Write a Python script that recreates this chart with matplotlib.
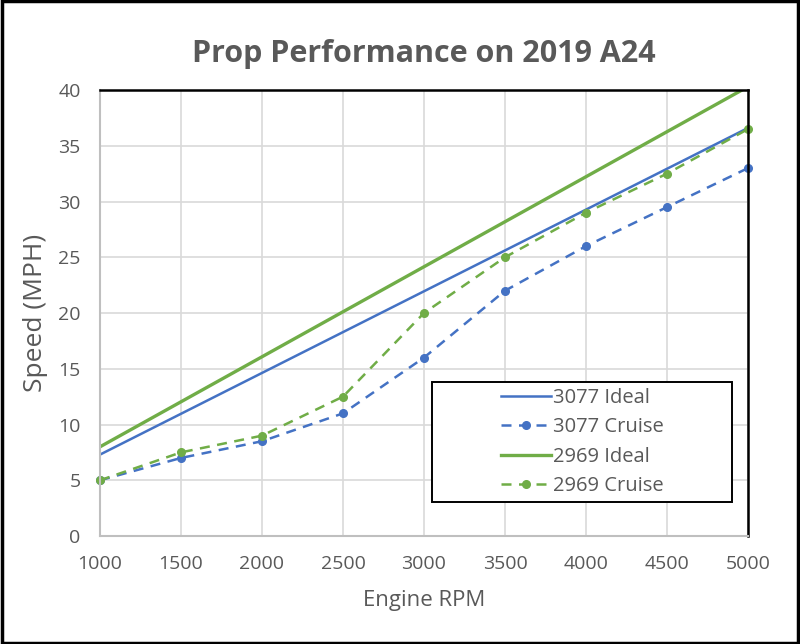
import matplotlib
matplotlib.use("Agg")
import matplotlib.pyplot as plt

rpm = [1000, 1500, 2000, 2500, 3000, 3500, 4000, 4500, 5000]
ideal_rpm = [1000, 5000]
ideal_3077 = [7.3, 36.6]
ideal_2969 = [8.0, 40.3]
cruise_3077 = [5, 7, 8.5, 11, 16, 22, 26, 29.5, 33]
cruise_2969 = [5, 7.5, 9, 12.5, 20, 25, 29, 32.5, 36.5]

BLUE = '#4472C4'
GREEN = '#70AD47'
GRAY = '#595959'

plt.rcParams['font.family'] = ['Open Sans', 'DejaVu Sans']

fig = plt.figure(figsize=(8.0, 6.44), dpi=100)
ax = fig.add_axes([0.125, 0.1677, 0.81, 0.6925])

ax.plot(ideal_rpm, ideal_3077, color=BLUE, lw=1.8, label='3077 Ideal')
ax.plot(rpm, cruise_3077, color=BLUE, lw=1.8, ls=(0, (4, 3)), marker='o', ms=5.5,
        label='3077 Cruise', clip_on=False)
ax.plot(ideal_rpm, ideal_2969, color=GREEN, lw=2.4, label='2969 Ideal')
ax.plot(rpm, cruise_2969, color=GREEN, lw=1.8, ls=(0, (4, 3)), marker='o', ms=5.5,
        label='2969 Cruise', clip_on=False)

ax.set_xlim(1000, 5000)
ax.set_ylim(0, 40)
ax.set_xticks(rpm)
ax.set_yticks(range(0, 41, 5))
ax.grid(True, color='#D9D9D9', lw=1.2)
ax.set_axisbelow(True)
for s in ['left', 'bottom']:
    ax.spines[s].set_color('#BFBFBF')
    ax.spines[s].set_linewidth(1.5)
for s in ['top', 'right']:
    ax.spines[s].set_color('black')
    ax.spines[s].set_linewidth(1.8)
ax.tick_params(length=0, labelsize=14, labelcolor=GRAY)
ax.tick_params(axis='x', pad=14)
ax.tick_params(axis='y', pad=14)

ax.set_xlabel('Engine RPM', fontsize=16, color=GRAY, labelpad=12)
ax.set_ylabel('Speed (MPH)', fontsize=19, color=GRAY, labelpad=7)
ax.set_title('Prop Performance on 2019 A24', fontsize=22, fontweight='bold',
             color=GRAY, pad=20)

# legend box drawn separately so the entries sit centred in a wider frame
ax.add_patch(plt.Rectangle((0.512, 0.076), 0.463, 0.269, transform=ax.transAxes,
                           fill=True, facecolor='white', edgecolor='black', lw=1.4,
                           zorder=5))
leg = ax.legend(loc='center', bbox_to_anchor=(0.744, 0.211), fontsize=14.5,
                frameon=False, handlelength=2.5, labelcolor=GRAY,
                labelspacing=0.47, handletextpad=0.1, borderpad=0)
leg.set_zorder(6)

fig.patches.append(plt.Rectangle((0.002, 0.002), 0.996, 0.996, transform=fig.transFigure,
                                 fill=False, edgecolor='black', lw=2.5))

fig.savefig('out.png', dpi=100)
